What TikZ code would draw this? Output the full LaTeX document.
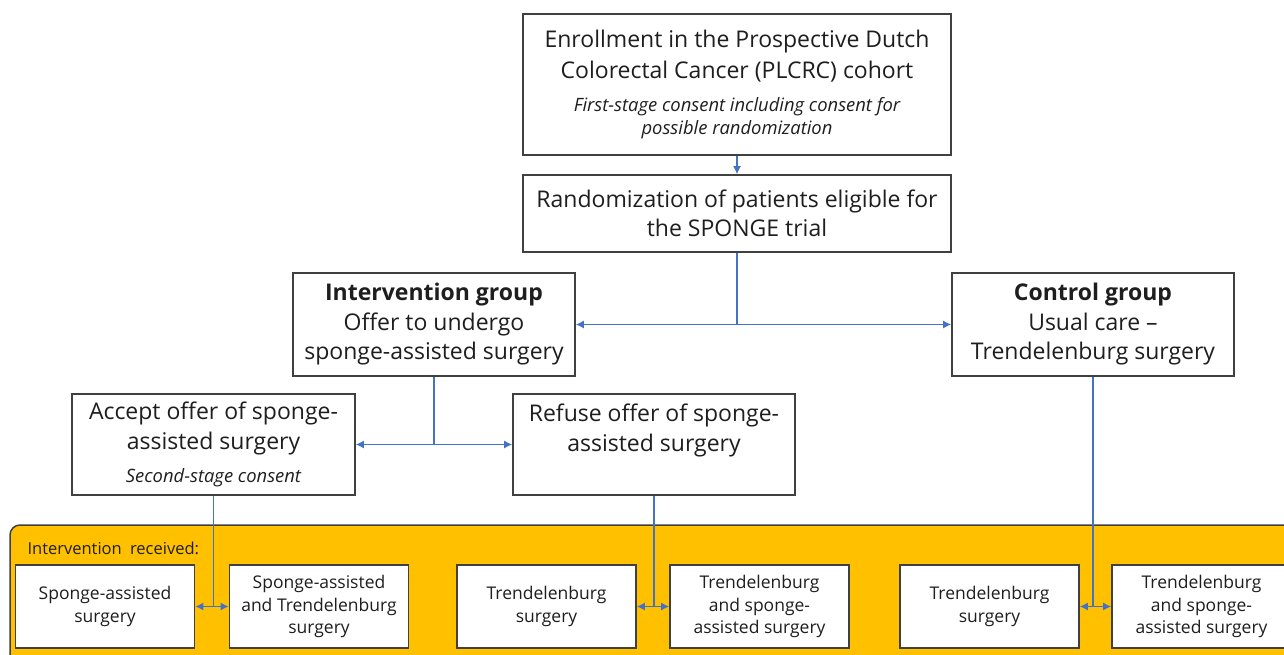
\documentclass[tikz,border=0pt]{standalone}
\usepackage{fontspec}
\setmainfont{Open Sans}
\usetikzlibrary{arrows.meta, positioning}
\definecolor{linkblue}{RGB}{68,114,196}
\definecolor{boxgray}{RGB}{64,64,64}
\definecolor{bandyellow}{RGB}{255,192,0}
\definecolor{textdark}{RGB}{30,30,30}
\newcommand{\mainsize}{\fontsize{23}{29.5}\selectfont}
\newcommand{\notesize}{\fontsize{18.4}{23}\selectfont}
\newcommand{\outsize}{\fontsize{17.5}{22.5}\selectfont}
\newcommand{\bandsize}{\fontsize{16.5}{20}\selectfont}

\begin{document}
\begin{tikzpicture}[
    x=1pt, y=-1pt,
    box/.style={rectangle, draw=boxgray, line width=1.6pt, fill=white, text=textdark, align=center, font=\mainsize, inner sep=0pt},
    outbox/.style={box, minimum width=179pt, minimum height=83pt, font=\outsize},
    conn/.style={draw=linkblue, line width=1.3pt, -{Latex[length=8pt,width=8pt]}},
    both/.style={draw=linkblue, line width=1.3pt, {Latex[length=8pt,width=8pt]}-{Latex[length=8pt,width=8pt]}},
    plain/.style={draw=linkblue, line width=1.3pt}
]
    \useasboundingbox (0,0) rectangle (1284,655);
    \clip (0,0) rectangle (1284,655);
    \fill[white] (0,0) rectangle (1284,655);

    % Enrollment and randomization
    \node[box, minimum width=428pt, minimum height=141pt] (enroll) at (737,84.5) {Enrollment in the Prospective Dutch\\[1.5pt]Colorectal Cancer (PLCRC) cohort\\[3pt]{\notesize\itshape First-stage consent including consent for}\\[-6.5pt]{\notesize\itshape possible randomization}};
    \node[box, minimum width=428pt, minimum height=77pt] (random) at (737,213.5) {Randomization of patients eligible for\\the SPONGE trial};

    % Groups
    \node[box, minimum width=282pt, minimum height=103pt] (interv) at (434,324.5) {\textbf{Intervention group}\\Offer to undergo\\sponge-assisted surgery};
    \node[box, minimum width=282pt, minimum height=103pt] (control) at (1093,324.5) {\textbf{Control group}\\Usual care --\\Trendelenburg surgery};

    % Offer accepted or refused
    \node[box, minimum width=283pt, minimum height=101pt] (accept) at (213.5,444.5) {Accept offer of sponge-\\assisted surgery\\[4pt]{\notesize\itshape Second-stage consent}};
    \node[box, minimum width=282pt, minimum height=101pt] (refuse) at (654,444.5) {Refuse offer of sponge-\\assisted surgery\\[4pt]{\notesize\itshape\phantom{S}}};

    % Intervention received
    \draw[draw=boxgray, line width=1.5pt, fill=bandyellow, rounded corners=10pt] (10,525) rectangle (1320,690);
    \node[anchor=west, font=\bandsize, text=textdark] (bandlabel) at (24,548) {Intervention\hspace{0.5em}received:};

    \node[outbox] (spa) at (105,606.5) {Sponge-assisted\\surgery};
    \node[outbox] (spatr) at (319,606.5) {Sponge-assisted\\and Trendelenburg\\surgery};
    \node[outbox] (tra) at (546.5,606.5) {Trendelenburg\\surgery};
    \node[outbox] (trspa) at (759.5,606.5) {Trendelenburg\\and sponge-\\assisted surgery};
    \node[outbox] (trb) at (989.5,606.5) {Trendelenburg\\surgery};
    \node[outbox] (trspb) at (1201.5,606.5) {Trendelenburg\\and sponge-\\assisted surgery};

    % Arrows
    \draw[conn] (enroll) -- (random);
    \draw[conn] (random.south) |- (interv.east);
    \draw[conn] (random.south) |- (control.west);
    \draw[conn] (interv.south) |- (accept.east);
    \draw[conn] (interv.south) |- (refuse.west);

    \draw[both] (spa) -- (spatr);
    \draw[both] (tra) -- (trspa);
    \draw[both] (trb) -- (trspb);
    \draw[plain] (accept.south) -- (accept.south |- spa.east);
    \draw[plain] (refuse.south) -- (refuse.south |- tra.east);
    \draw[plain] (control.south) -- (control.south |- trb.east);

\end{tikzpicture}
\end{document}
